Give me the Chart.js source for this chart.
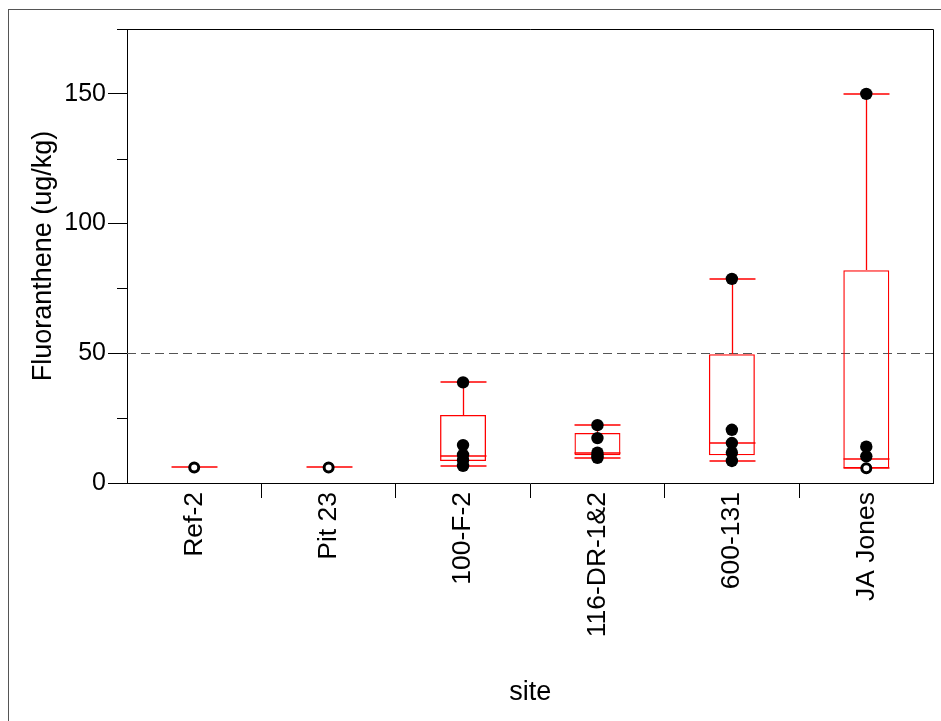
<!DOCTYPE html>
<html>
<head>
<meta charset="utf-8">
<script src="https://cdn.jsdelivr.net/npm/chart.js@4/dist/chart.umd.min.js"></script>
<style>
  html, body { margin: 0; padding: 0; background: #fff; overflow: hidden; }
  #wrap { position: relative; width: 941px; height: 721px; }
  #frame { position: absolute; left: 8px; top: 9px; width: 940px; height: 720px;
           border-top: 1px solid #555; border-left: 1px solid #555; pointer-events: none; }
  canvas { position: absolute; left: 0; top: 0; }
</style>
</head>
<body>
<div id="wrap">
  <canvas id="chart" width="941" height="721"></canvas>
  <div id="frame"></div>
</div>
<script>
const sites = ["Ref-2", "Pit 23", "100-F-2", "116-DR-1&2", "600-131", "JA Jones"];
const lowerWhisker = [6, 6, 6.6, 9.7, 8.5, 5.7];
const q1 = [6, 6, 8.5, 10.7, 10.7, 5.7];
const median = [6, 6, 10.5, 11.7, 15.4, 9.4];
const q3 = [6, 6, 26.2, 19.3, 49.6, 82];
const upperWhisker = [6, 6, 38.8, 22.3, 78.7, 150];
const filledValues = [
  [],
  [],
  [38.8, 14.6, 10.8, 8.8, 6.6],
  [22.3, 17.3, 11.7, 10.5, 9.7],
  [78.7, 20.5, 15.4, 11.7, 8.5],
  [150, 14, 10.3],
];
const openValues = [[6], [6], [], [], [], [5.7]];
const referenceLevel = 50;

const red = "rgb(255,0,0)";

function pointsFor(values) {
  return sites.flatMap((site, i) => values[i].map((v) => ({ x: site, y: v })));
}

const boxPlotPlugin = {
  id: "boxPlot",
  beforeDatasetsDraw(chart) {
    const { ctx, chartArea, scales } = chart;
    const x = scales.x;
    const y = scales.y;
    const boxMeta = chart.getDatasetMeta(2);

    ctx.save();
    // reference line
    const yRef = Math.round(y.getPixelForValue(referenceLevel)) + 0.5;
    ctx.strokeStyle = "#555";
    ctx.lineWidth = 1;
    ctx.setLineDash([9, 5]);
    ctx.beginPath();
    ctx.moveTo(chartArea.left, yRef);
    ctx.lineTo(chartArea.right, yRef);
    ctx.stroke();
    ctx.setLineDash([]);

    // whiskers, caps and medians
    ctx.strokeStyle = red;
    ctx.lineWidth = 1.3;
    sites.forEach((site, i) => {
      const cx = Math.round(x.getPixelForValue(i)) + 0.5;
      const half = boxMeta.data[i].width / 2;
      const py = (v) => Math.round(y.getPixelForValue(v));
      ctx.beginPath();
      ctx.moveTo(cx, py(q3[i]));
      ctx.lineTo(cx, py(upperWhisker[i]));
      ctx.moveTo(cx, py(q1[i]));
      ctx.lineTo(cx, py(lowerWhisker[i]));
      [upperWhisker[i], lowerWhisker[i], median[i]].forEach((v) => {
        ctx.moveTo(cx - half, py(v));
        ctx.lineTo(cx + half, py(v));
      });
      ctx.stroke();
    });

    // minor ticks and plot frame
    ctx.strokeStyle = "#000";
    ctx.lineWidth = 1;
    ctx.beginPath();
    y.ticks.forEach((t) => {
      if (t.value % 50 !== 0) {
        const ty = Math.round(y.getPixelForValue(t.value)) + 0.5;
        ctx.moveTo(chartArea.left - 10, ty);
        ctx.lineTo(chartArea.left, ty);
      }
    });
    const top = Math.round(chartArea.top) + 0.5;
    const right = Math.round(chartArea.right) - 0.5;
    ctx.moveTo(chartArea.left, top);
    ctx.lineTo(right, top);
    ctx.lineTo(right, chartArea.bottom);
    ctx.stroke();
    ctx.restore();
  },
};

Chart.defaults.font.family = "'Liberation Sans', Arial, sans-serif";
Chart.defaults.color = "#000";

new Chart(document.querySelector("#chart"), {
  type: "bar",
  data: {
    labels: sites,
    datasets: [
      {
        type: "line",
        label: "filled",
        data: pointsFor(filledValues),
        showLine: false,
        pointRadius: 6.2,
        pointBackgroundColor: "#000",
        pointBorderColor: "#000",
        pointBorderWidth: 0,
        order: 0,
      },
      {
        type: "line",
        label: "open",
        data: pointsFor(openValues),
        showLine: false,
        pointRadius: 4.5,
        pointBackgroundColor: "#fff",
        pointBorderColor: "#000",
        pointBorderWidth: 3,
        order: 1,
      },
      {
        type: "bar",
        label: "box",
        data: sites.map((site, i) => [q1[i], q3[i]]),
        backgroundColor: "rgba(0,0,0,0)",
        borderColor: red,
        borderWidth: 1.3,
        borderSkipped: false,
        barPercentage: 0.342,
        categoryPercentage: 1,
        order: 2,
      },
    ],
  },
  plugins: [boxPlotPlugin],
  options: {
    responsive: false,
    animation: false,
    layout: { padding: { left: 8, top: 29, right: 6, bottom: 0 } },
    plugins: {
      legend: { display: false },
      tooltip: { enabled: false },
    },
    scales: {
      x: {
        type: "category",
        offset: true,
        grid: {
          offset: true,
          drawOnChartArea: false,
          tickLength: 15,
          color: (ctx) => (ctx.index === undefined || ctx.index === 0 ? "rgba(0,0,0,0)" : "#000"),
        },
        border: { color: "#000" },
        ticks: {
          minRotation: 90,
          maxRotation: 90,
          padding: -6,
          font: { size: 26.5 },
          color: "#000",
          autoSkip: false,
        },
        title: {
          display: true,
          text: "site",
          font: { size: 27 },
          padding: { top: 0, bottom: 12 },
        },
        afterFit: (scale) => { scale.height = 238; },
      },
      y: {
        min: 0,
        max: 175,
        ticks: {
          stepSize: 25,
          padding: 2,
          font: { size: 25 },
          color: "#000",
          callback: (value) => (value % 50 === 0 ? String(value) : ""),
        },
        grid: {
          drawOnChartArea: false,
          tickLength: 19,
          tickColor: (ctx) => (ctx.tick && ctx.tick.value % 50 === 0 ? "#000" : "rgba(0,0,0,0)"),
        },
        border: { color: "#000" },
        title: {
          display: true,
          text: "Fluoranthene (ug/kg)",
          font: { size: 27 },
          padding: { top: 19, bottom: 0 },
        },
        afterFit: (scale) => { scale.width = 119; },
      },
    },
  },
});
</script>
</body>
</html>
